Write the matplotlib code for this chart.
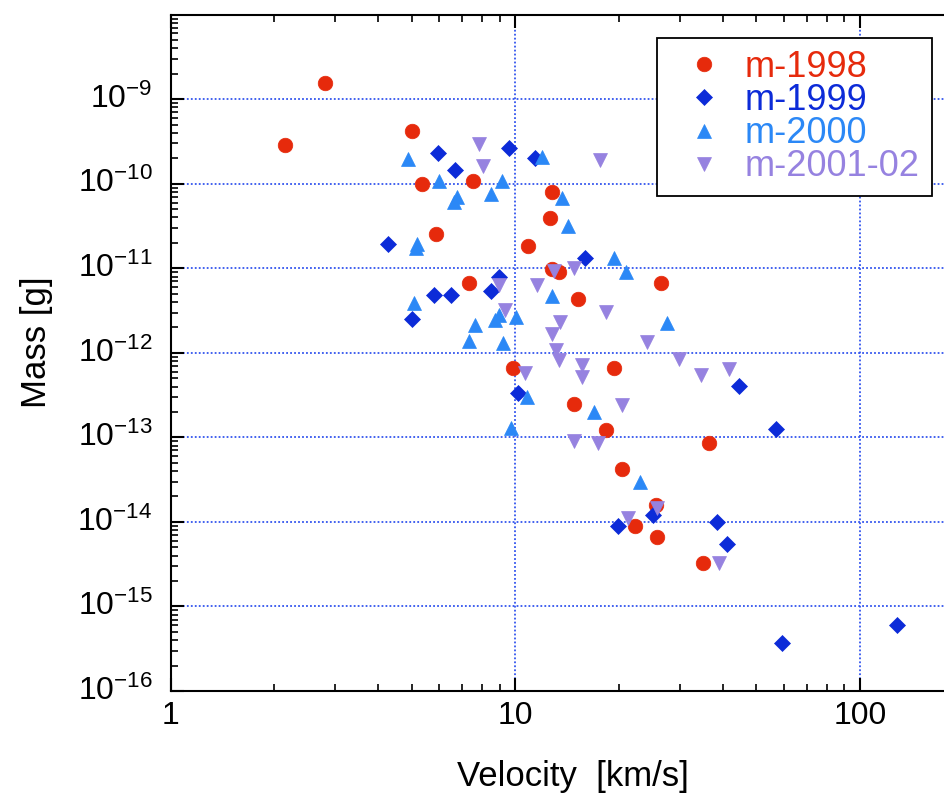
import numpy as np
import matplotlib
matplotlib.use("Agg")
import matplotlib.pyplot as plt
from matplotlib.ticker import FixedLocator, LogLocator, NullFormatter, FuncFormatter

plt.rcParams["font.family"] = ["Liberation Sans", "DejaVu Sans"]
plt.rcParams["mathtext.fontset"] = "custom"
plt.rcParams["mathtext.rm"] = "Liberation Sans"
plt.rcParams["mathtext.it"] = "Liberation Sans:italic"
plt.rcParams["mathtext.bf"] = "Liberation Sans:bold"
plt.rcParams["ytick.alignment"] = "center"

# velocity [km/s] / mass [g]
v_1998 = [2.15, 2.81, 5.01, 5.36, 7.54, 5.87, 7.34, 9.85, 12.8, 12.6, 10.9, 12.8,
          13.4, 26.5, 15.2, 19.3, 14.8, 18.3, 36.4, 20.4, 25.5, 22.3, 25.8, 35.0]
m_1998 = [2.9e-10, 1.55e-9, 4.2e-10, 9.9e-11, 1.09e-10, 2.56e-11, 6.7e-12, 6.6e-13,
          7.9e-11, 3.9e-11, 1.85e-11, 9.8e-12, 9.1e-12, 6.7e-12, 4.3e-12, 6.6e-13,
          2.5e-13, 1.22e-13, 8.5e-14, 4.2e-14, 1.6e-14, 8.9e-15, 6.7e-15, 3.3e-15]

v_1999 = [4.27, 5.95, 6.69, 9.56, 11.4, 5.01, 5.79, 6.52, 8.48, 8.94, 15.9, 10.2,
          19.8, 25.1, 38.4, 41.0, 44.5, 57.2, 59.5, 128.0]
m_1999 = [1.95e-11, 2.33e-10, 1.45e-10, 2.63e-10, 2.0e-10, 2.54e-12, 4.83e-12, 4.83e-12,
          5.43e-12, 7.96e-12, 1.33e-11, 3.32e-13, 8.85e-15, 1.2e-14, 9.95e-15, 5.42e-15,
          4.05e-13, 1.25e-13, 3.65e-16, 6.0e-16]

v_2000 = [4.88, 6.02, 6.77, 6.62, 8.50, 9.15, 5.20, 5.15, 5.08, 7.65, 7.35, 8.75, 8.94,
          9.21, 10.05, 11.95, 13.67, 14.22, 19.3, 20.9, 12.78, 27.6, 10.81, 9.72, 16.93, 22.96]
m_2000 = [1.97e-10, 1.09e-10, 7.03e-11, 6.13e-11, 7.52e-11, 1.09e-10, 1.92e-11, 1.75e-11,
          3.85e-12, 2.13e-12, 1.38e-12, 2.44e-12, 2.8e-12, 1.32e-12, 2.67e-12, 2.06e-10,
          6.73e-11, 3.17e-11, 1.31e-11, 9.1e-12, 4.74e-12, 2.23e-12, 3.02e-13, 1.28e-13,
          1.98e-13, 2.99e-14]

v_2001 = [7.86, 8.06, 8.97, 9.35, 17.57, 12.92, 14.84, 11.56, 18.34, 13.51, 12.78, 13.15,
          13.36, 24.1, 29.9, 15.62, 15.62, 10.64, 34.6, 41.6, 20.4, 14.84, 17.34, 21.2,
          25.8, 38.95]
m_2001 = [2.96e-10, 1.63e-10, 6.34e-12, 3.21e-12, 1.91e-10, 9.37e-12, 1.0e-11, 6.34e-12,
          3.01e-12, 2.33e-12, 1.67e-12, 1.08e-12, 8.2e-13, 1.33e-12, 8.37e-13, 7.18e-13,
          5.18e-13, 5.71e-13, 5.46e-13, 6.38e-13, 2.41e-13, 9.12e-14, 8.63e-14, 1.12e-14,
          1.45e-14, 3.23e-15]

labels = ["m-1998", "m-1999", "m-2000", "m-2001-02"]
colors = ["#e62a0c", "#0c2bd8", "#2b88f6", "#9682e0"]
markers = ["o", "D", "^", "v"]
msizes = [10.5, 8.3, 10.0, 10.0]

fig = plt.figure(figsize=(9.45, 7.96), dpi=100)
ax = fig.add_axes([0.1806, 0.1319, 0.8394, 0.8496])

series = [(v_1998, m_1998), (v_1999, m_1999), (v_2000, m_2000), (v_2001, m_2001)]
for (v, m), lab, c, mk, ms in zip(series, labels, colors, markers, msizes):
    ax.plot(v, m, ls="none", marker=mk, ms=ms, color=c, mec=c, mew=0.5, label=lab, zorder=3)

ax.set_xscale("log")
ax.set_yscale("log")
ax.set_xlim(1, 200)
ax.set_ylim(1e-16, 1e-8)

ax.xaxis.set_major_locator(FixedLocator([1, 10, 100]))
ax.xaxis.set_minor_locator(LogLocator(base=10, subs=np.arange(2, 10)))
ax.xaxis.set_major_formatter(FuncFormatter(lambda x, _: "%g" % x))
ax.xaxis.set_minor_formatter(NullFormatter())
ax.yaxis.set_major_locator(FixedLocator([10.0 ** k for k in range(-16, -8)]))
ax.yaxis.set_minor_locator(LogLocator(base=10, subs=np.arange(2, 10), numticks=20))
ax.yaxis.set_major_formatter(FuncFormatter(
    lambda y, _: r"$\mathregular{10^{%d}}$" % round(np.log10(y))))
ax.yaxis.set_minor_formatter(NullFormatter())

ax.tick_params(which="major", direction="in", length=9.5, width=1.5, top=True,
               labelsize=23)
ax.tick_params(which="minor", direction="in", length=5, width=1.2, top=True)
ax.tick_params(axis="y", pad=13)
ax.tick_params(axis="x", pad=7)
for s in ax.spines.values():
    s.set_linewidth(1.5)

ax.grid(True, which="major", color="#3355ee", lw=1.3, ls=(0, (1, 1.2)))

ax.set_xlabel("Velocity  [km/s]", fontsize=25)
ax.xaxis.set_label_coords(0.5066, -0.102)
ax.set_ylabel("Mass [g]", fontsize=25)
ax.yaxis.set_label_coords(-0.148, 0.516)

leg = ax.legend(loc="upper right", bbox_to_anchor=(932 / 945, 1 - 38 / 796),
                bbox_transform=fig.transFigure, borderaxespad=0, fontsize=26,
                handlelength=1.95, handletextpad=0.15, labelspacing=-0.05,
                borderpad=0.33, fancybox=False, framealpha=1, edgecolor="black",
                numpoints=1)
leg.get_frame().set_linewidth(1.3)
for t, c in zip(leg.get_texts(), colors):
    t.set_color(c)

fig.savefig("out.png", dpi=100)
